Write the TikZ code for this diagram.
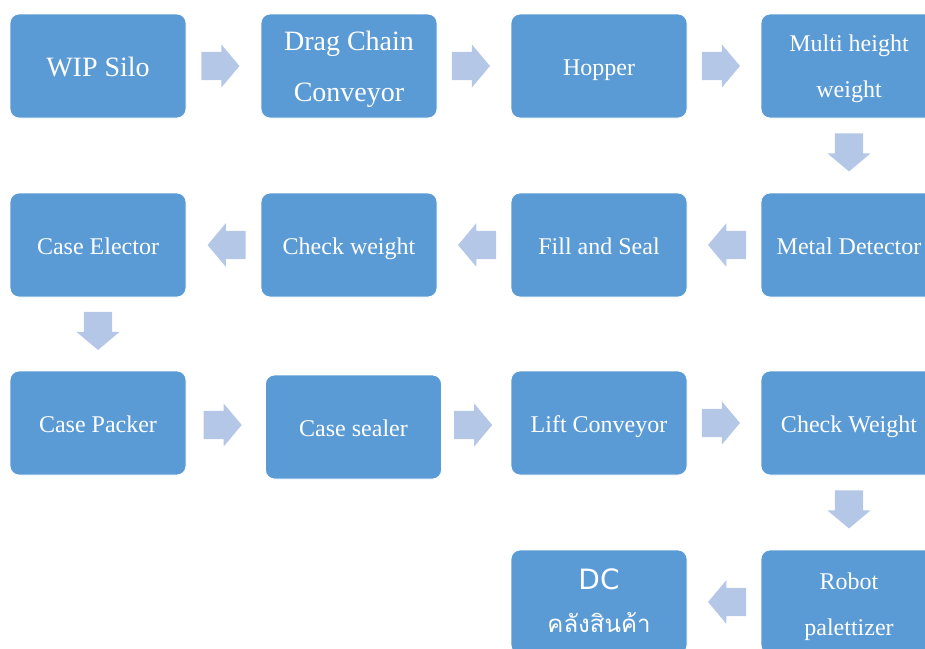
\documentclass[tikz,border=0pt]{standalone}
\usepackage{fontspec}
\setmainfont{Liberation Serif}
\newfontfamily\dcfont{DejaVu Sans}
\newfontfamily\thaifont[Script=Thai]{Loma}
\usetikzlibrary{shapes.arrows,calc}
\definecolor{boxblue}{HTML}{5B9BD5}
\definecolor{flowblue}{HTML}{B4C7E7}
% two centred lines whose baseline is the one of the lower line
\newcommand\twolines[2]{\begin{tabular}[b]{@{}c@{}}#1\\#2\end{tabular}}

\begin{document}
\begin{tikzpicture}[x=1pt,y=-1pt,
  stage/.style={draw=white, line width=0.8pt, fill=boxblue, rounded corners=9pt,
    minimum width=176pt, minimum height=104pt, text=white,
    inner sep=0pt, text height=18pt, text depth=0pt,
    font=\fontsize{24}{46}\selectfont},
  % block arrow; the shift centres the whole shape (shaft and head) on its position
  flow/.style={single arrow, fill=flowblue, draw=none, minimum height=38pt,
    inner xsep=0pt, inner ysep=14pt, single arrow head extend=7.5pt,
    single arrow tip angle=100, xshift=-9pt},
  flowleft/.style={rotate=180, flow},
  flowdown/.style={rotate=-90, flow}
]
\useasboundingbox (0,0) rectangle (925,648);
\clip (0,0) rectangle (925,648);

% first row, left to right
\node[stage, text height=20pt, font=\fontsize{28}{51}\selectfont]
  (wip)    at (98,66)  {WIP Silo};
\node[stage, text height=70pt, font=\fontsize{28}{51}\selectfont]
  (drag)   at (349,66) {\twolines{Drag Chain}{Conveyor}};
\node[stage] (hopper) at (599,66) {Hopper};
\node[stage, text height=62pt] (multi) at (849,66) {\twolines{Multi height}{weight}};

% second row, right to left
\node[stage] (metal)    at (849,245) {Metal Detector};
\node[stage] (fill)     at (599,245) {Fill and Seal};
\node[stage] (checkw)   at (349,245) {Check weight};
\node[stage] (elector)  at (98,245)  {Case Elector};

% third row, left to right
\node[stage] (packer)   at (98,423)    {Case Packer};
\node[stage] (sealer)   at (353.5,427) {Case sealer};
\node[stage] (lift)     at (599,423)   {Lift Conveyor};
\node[stage] (checkW)   at (849,423)   {Check Weight};

% last row
\node[stage, text height=66pt] (robot) at (849,602) {\twolines{Robot}{palettizer}};
\node[stage, text height=60pt, font=\fontsize{24}{43}\selectfont] (dc) at (599,602)
  {\twolines{\dcfont\fontsize{28}{43}\selectfont DC}{\thaifont คลังสินค้า}};

% flow arrows
\node[flow]      (f1)  at ($(wip.east)!0.5!(drag.west)$) {};
\node[flow]      (f2)  at ($(drag.east)!0.5!(hopper.west)$) {};
\node[flow]      (f3)  at ($(hopper.east)!0.5!(multi.west)$) {};
\node[flowdown]  (f4)  at ($(multi.south)!0.5!(metal.north)$) {};
\node[flowleft]  (f5)  at ($(metal.west)!0.5!(fill.east)$) {};
\node[flowleft]  (f6)  at ($(fill.west)!0.5!(checkw.east)$) {};
\node[flowleft]  (f7)  at ($(checkw.west)!0.5!(elector.east)$) {};
\node[flowdown]  (f8)  at ($(elector.south)!0.5!(packer.north)$) {};
\node[flow]      (f9)  at ($(packer.east)!0.5!(sealer.west)$) {};
\node[flow]      (f10) at ($(sealer.east)!0.5!(lift.west)$) {};
\node[flow]      (f11) at ($(lift.east)!0.5!(checkW.west)$) {};
\node[flowdown]  (f12) at ($(checkW.south)!0.5!(robot.north)$) {};
\node[flowleft]  (f13) at ($(robot.west)!0.5!(dc.east)$) {};
\end{tikzpicture}
\end{document}
